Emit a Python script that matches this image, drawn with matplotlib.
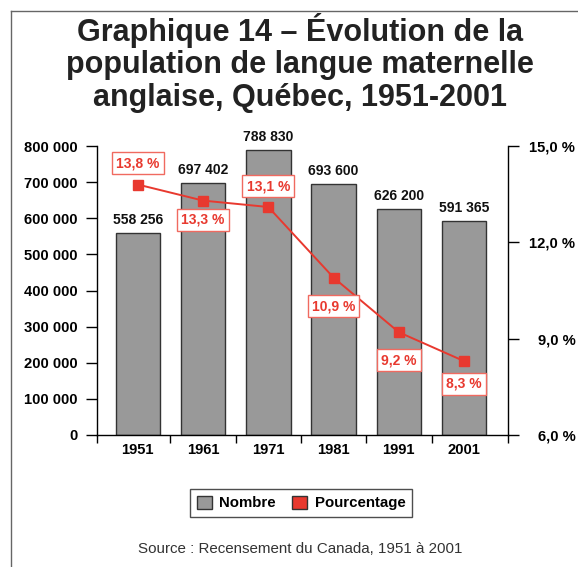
import matplotlib
matplotlib.use('Agg')
import matplotlib.pyplot as plt
from matplotlib.lines import Line2D
from matplotlib.patches import Patch
import numpy as np

# ---- data ----
years = ['1951', '1961', '1971', '1981', '1991', '2001']
nombre = [558256, 697402, 788830, 693600, 626200, 591365]
pourcentage = [13.8, 13.3, 13.1, 10.9, 9.2, 8.3]
left_ticks = [0, 100000, 200000, 300000, 400000, 500000, 600000, 700000, 800000]
right_ticks = [6.0, 9.0, 12.0, 15.0]
legend_labels = ['Nombre', 'Pourcentage']
title_lines = ["Graphique 14 – Évolution de la",
               "population de langue maternelle",
               "anglaise, Québec, 1951-2001"]
source = "Source : Recensement du Canada, 1951 à 2001"

# label offsets (points) for percentage boxes
pct_offsets = [15.4, -13.8, 15.0, -20.6, -20.2, -16.4]

plt.rcParams['font.family'] = ['Liberation Sans', 'DejaVu Sans']

W, H = 578, 567
fig = plt.figure(figsize=(W / 100, H / 100), dpi=100)
fig.patch.set_facecolor('white')

ax_l, ax_r, ax_b, ax_t = 96.8, 508.0, 435.0, 146.0
ax = fig.add_axes([ax_l / W, 1 - ax_b / H, (ax_r - ax_l) / W, (ax_b - ax_t) / H])

BAR = '#999999'
EDGE = '#333333'
RED = '#e8392f'

x = np.arange(len(years))
ax.bar(x, nombre, width=0.68, color=BAR, edgecolor=EDGE, linewidth=1, zorder=2)
xlim = (-0.628, 5.672)
ax.set_xlim(*xlim)
ax.set_ylim(0, 800000)

def fmt_num(v):
    return f"{v:,}".replace(',', ' ')

ax.set_yticks(left_ticks)
ax.set_yticklabels([fmt_num(v) for v in left_ticks], fontsize=10.6, fontweight='bold')
ax.tick_params(axis='y', direction='out', length=8, width=1, pad=6, colors='black')

ax.set_xticks(x)
ax.set_xticklabels(years, fontsize=10.6, fontweight='bold')
ax.tick_params(axis='x', which='major', length=0, pad=6)
ax.set_xticks([xlim[0], 0.5, 1.5, 2.5, 3.5, 4.5, xlim[1]], minor=True)
ax.tick_params(axis='x', which='minor', length=6, width=1, direction='out')

for s in ['top', 'right']:
    ax.spines[s].set_visible(False)
for s in ['left', 'bottom']:
    ax.spines[s].set_linewidth(1)

for xi, v in zip(x, nombre):
    ax.annotate(fmt_num(v), (xi, v), xytext=(0, 6.5), textcoords='offset points',
                ha='center', va='baseline', fontsize=10, fontweight='bold', color='#111111')

ax2 = ax.twinx()
ax2.set_ylim(6, 15)
ax2.plot(x, pourcentage, color=RED, lw=1.4, marker='s', ms=7.5, zorder=3)
ax2.set_yticks(right_ticks)
ax2.set_yticklabels([f"{v:.1f} %".replace('.', ',') for v in right_ticks],
                    fontsize=10.6, fontweight='bold')
ax2.tick_params(axis='y', direction='out', length=8, width=1, pad=40.5)
for lab in ax2.get_yticklabels():
    lab.set_ha('right')
for s in ['top', 'left', 'bottom']:
    ax2.spines[s].set_visible(False)
ax2.spines['right'].set_linewidth(1)

for xi, p, off in zip(x, pourcentage, pct_offsets):
    ax2.annotate(f"{p:.1f} %".replace('.', ','), (xi, p), xytext=(0, off),
                 textcoords='offset points', ha='center', va='center',
                 fontsize=10, fontweight='bold', color=RED, zorder=5,
                 bbox=dict(boxstyle='square,pad=0.3', fc='white', ec='#f06a60', lw=1))

# title (three lines)
for line, yb in zip(title_lines, [41, 73.5, 106]):
    fig.text(300 / W, 1 - yb / H, line, ha='center', va='baseline', fontsize=22,
             fontweight='bold', color='#222222')

# legend
handles = [Patch(facecolor=BAR, edgecolor=EDGE, linewidth=1),
           Patch(facecolor=RED, edgecolor=EDGE, linewidth=1)]
leg = fig.legend(handles, legend_labels, loc='center', bbox_to_anchor=(301 / W, 1 - 503 / H),
                 ncol=2, frameon=True, fancybox=False, shadow=False,
                 prop={'weight': 'bold', 'size': 10.8}, handlelength=1.0, handleheight=1.0,
                 handletextpad=0.5, columnspacing=1.1, borderpad=0.45)
leg.get_frame().set_edgecolor('#222222')
leg.get_frame().set_linewidth(1)

# source
fig.text(300 / W, 1 - 549 / H, source, ha='center', va='center', fontsize=10.9, color='#333333')

# frame lines (top and left)
fig.add_artist(Line2D([10.5 / W, 1], [1 - 10.5 / H, 1 - 10.5 / H], transform=fig.transFigure,
                      color='#666666', lw=1))
fig.add_artist(Line2D([10.5 / W, 10.5 / W], [1 - 10.5 / H, 0], transform=fig.transFigure,
                      color='#666666', lw=1))

fig.savefig('out.png', dpi=100)
